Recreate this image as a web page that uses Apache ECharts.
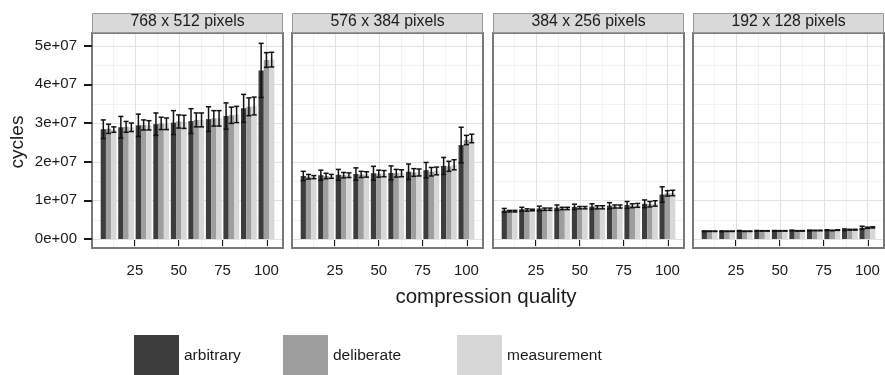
<!DOCTYPE html>
<html><head><meta charset="utf-8">
<script src="https://cdn.jsdelivr.net/npm/echarts@6/dist/echarts.min.js"></script>
<style>html,body{margin:0;padding:0;background:#fff}#c{width:885px;height:375px}</style>
</head><body><div id="c"></div>
<script>
// ---------- data ----------
const quality = [10, 20, 30, 40, 50, 60, 70, 80, 90, 100];
const panelTitles = ['768 x 512 pixels', '576 x 384 pixels', '384 x 256 pixels', '192 x 128 pixels'];
const seriesNames = ['arbitrary', 'deliberate', 'measurement'];
const xTickValues = [25, 50, 75, 100];
const xMinorValues = [12.5, 37.5, 62.5, 87.5];
const yTickValues = [0, 1e7, 2e7, 3e7, 4e7, 5e7];
const yTickLabels = ['0e+00', '1e+07', '2e+07', '3e+07', '4e+07', '5e+07'];
const yMinorValues = [0.5e7, 1.5e7, 2.5e7, 3.5e7, 4.5e7];

// 768 x 512
const p768Arb   = [2.84e7, 2.89e7, 2.94e7, 2.97e7, 3.01e7, 3.05e7, 3.10e7, 3.18e7, 3.38e7, 4.36e7];
const p768ArbSd = [0.24e7, 0.28e7, 0.29e7, 0.29e7, 0.31e7, 0.32e7, 0.32e7, 0.34e7, 0.36e7, 0.70e7];
const p768Del   = [2.85e7, 2.90e7, 2.95e7, 2.99e7, 3.04e7, 3.08e7, 3.12e7, 3.20e7, 3.42e7, 4.63e7];
const p768DelSd = [0.12e7, 0.14e7, 0.13e7, 0.16e7, 0.17e7, 0.18e7, 0.20e7, 0.21e7, 0.23e7, 0.19e7];
const p768Mea   = [2.83e7, 2.89e7, 2.94e7, 2.98e7, 3.03e7, 3.08e7, 3.12e7, 3.22e7, 3.44e7, 4.64e7];
const p768MeaSd = [0.07e7, 0.11e7, 0.12e7, 0.15e7, 0.17e7, 0.18e7, 0.20e7, 0.21e7, 0.23e7, 0.19e7];
// 576 x 384
const p576Arb   = [1.63e7, 1.65e7, 1.66e7, 1.68e7, 1.70e7, 1.71e7, 1.74e7, 1.78e7, 1.89e7, 2.43e7];
const p576ArbSd = [0.12e7, 0.13e7, 0.14e7, 0.16e7, 0.18e7, 0.18e7, 0.20e7, 0.20e7, 0.22e7, 0.46e7];
const p576Del   = [1.61e7, 1.63e7, 1.65e7, 1.67e7, 1.69e7, 1.70e7, 1.72e7, 1.74e7, 1.88e7, 2.56e7];
const p576DelSd = [0.06e7, 0.07e7, 0.07e7, 0.08e7, 0.09e7, 0.10e7, 0.10e7, 0.11e7, 0.13e7, 0.12e7];
const p576Mea   = [1.60e7, 1.62e7, 1.65e7, 1.67e7, 1.69e7, 1.70e7, 1.72e7, 1.76e7, 1.92e7, 2.60e7];
const p576MeaSd = [0.04e7, 0.05e7, 0.06e7, 0.07e7, 0.08e7, 0.09e7, 0.09e7, 0.10e7, 0.13e7, 0.11e7];
// 384 x 256
const p384Arb   = [0.74e7, 0.77e7, 0.79e7, 0.81e7, 0.83e7, 0.84e7, 0.86e7, 0.88e7, 0.91e7, 1.15e7];
const p384ArbSd = [0.05e7, 0.05e7, 0.06e7, 0.07e7, 0.07e7, 0.07e7, 0.08e7, 0.09e7, 0.10e7, 0.20e7];
const p384Del   = [0.72e7, 0.75e7, 0.77e7, 0.79e7, 0.81e7, 0.82e7, 0.84e7, 0.86e7, 0.90e7, 1.18e7];
const p384DelSd = [0.02e7, 0.03e7, 0.03e7, 0.03e7, 0.03e7, 0.04e7, 0.04e7, 0.05e7, 0.07e7, 0.07e7];
const p384Mea   = [0.72e7, 0.75e7, 0.77e7, 0.79e7, 0.81e7, 0.82e7, 0.84e7, 0.87e7, 0.92e7, 1.19e7];
const p384MeaSd = [0.02e7, 0.02e7, 0.03e7, 0.03e7, 0.03e7, 0.04e7, 0.04e7, 0.05e7, 0.07e7, 0.07e7];
// 192 x 128
const p192Arb   = [0.20e7, 0.20e7, 0.21e7, 0.21e7, 0.21e7, 0.22e7, 0.22e7, 0.23e7, 0.24e7, 0.29e7];
const p192ArbSd = [0.01e7, 0.01e7, 0.01e7, 0.01e7, 0.01e7, 0.01e7, 0.01e7, 0.01e7, 0.02e7, 0.04e7];
const p192Del   = [0.20e7, 0.20e7, 0.20e7, 0.21e7, 0.21e7, 0.21e7, 0.22e7, 0.22e7, 0.24e7, 0.29e7];
const p192DelSd = [0.005e7, 0.005e7, 0.005e7, 0.005e7, 0.006e7, 0.006e7, 0.006e7, 0.007e7, 0.01e7, 0.015e7];
const p192Mea   = [0.20e7, 0.20e7, 0.20e7, 0.21e7, 0.21e7, 0.21e7, 0.22e7, 0.23e7, 0.24e7, 0.30e7];
const p192MeaSd = [0.005e7, 0.005e7, 0.005e7, 0.005e7, 0.006e7, 0.006e7, 0.006e7, 0.007e7, 0.01e7, 0.015e7];

// ---------- assembly ----------
const panels = [
  [[p768Arb, p768ArbSd], [p768Del, p768DelSd], [p768Mea, p768MeaSd]],
  [[p576Arb, p576ArbSd], [p576Del, p576DelSd], [p576Mea, p576MeaSd]],
  [[p384Arb, p384ArbSd], [p384Del, p384DelSd], [p384Mea, p384MeaSd]],
  [[p192Arb, p192ArbSd], [p192Del, p192DelSd], [p192Mea, p192MeaSd]]
];

const FONT = '"Liberation Sans", Arial, Helvetica, sans-serif';
const fills = ['#3d3d3d', '#9e9e9e', '#d7d7d7'];
const offsets = [-3, 0, 3];
const barW = 3;
const capW = 2.9;
const gridLefts = [92, 292, 493, 693];
const gridW = 191, gridTop = 33, gridH = 215;
const xMin = 0.55, xMax = 109.45;
const yMin = -0.2328e7, yMax = 5.328e7;

const chart = echarts.init(document.getElementById('c'), null, {renderer: 'canvas'});

const grids = [], xAxes = [], yAxes = [], series = [], graphics = [];

function gridLinesRender(params, api) {
  const cs = params.coordSys;
  const kind = api.value(0), val = api.value(1), major = api.value(2);
  const stroke = major ? '#e2e2e2' : '#f2f2f2';
  if (kind === 0) {
    const p = api.coord([val, 0]);
    const x = Math.round(p[0]) + 0.5;
    return {type: 'line', shape: {x1: x, y1: cs.y + 1, x2: x, y2: cs.y + cs.height - 1},
            style: {stroke: stroke, lineWidth: 1}};
  } else {
    const p = api.coord([xMin, val]);
    const y = Math.round(p[1]) + 0.5;
    return {type: 'line', shape: {x1: cs.x + 1, y1: y, x2: cs.x + cs.width - 1, y2: y},
            style: {stroke: stroke, lineWidth: 1}};
  }
}

const gridLineData = [];
xMinorValues.forEach(v => gridLineData.push([0, v, 0]));
yMinorValues.forEach(v => gridLineData.push([1, v, 0]));
xTickValues.forEach(v => gridLineData.push([0, v, 1]));
yTickValues.forEach(v => gridLineData.push([1, v, 1]));

panels.forEach((panel, pi) => {
  grids.push({left: gridLefts[pi], top: gridTop, width: gridW, height: gridH,
              show: true, backgroundColor: '#ffffff', borderColor: '#7a7a7a', borderWidth: 2,
              containLabel: false});
  xAxes.push({
    type: 'value', gridIndex: pi, min: xMin, max: xMax,
    axisLine: {show: false},
    splitLine: {show: false},
    axisTick: {show: true, length: 7, customValues: xTickValues, lineStyle: {color: '#1a1a1a', width: 2}},
    axisLabel: {show: true, customValues: xTickValues, margin: 15, fontSize: 15, color: '#1a1a1a', fontFamily: FONT}
  });
  yAxes.push({
    type: 'value', gridIndex: pi, min: yMin, max: yMax,
    axisLine: {show: false},
    splitLine: {show: false},
    axisTick: {show: pi === 0, length: 8, customValues: yTickValues, lineStyle: {color: '#1a1a1a', width: 2}},
    axisLabel: {show: pi === 0, customValues: yTickValues, margin: 15, fontSize: 15, color: '#1a1a1a', fontFamily: FONT,
                formatter: (v) => { const i = yTickValues.indexOf(v); return i >= 0 ? yTickLabels[i] : ''; }}
  });
  series.push({
    type: 'custom', xAxisIndex: pi, yAxisIndex: pi, z: 1, silent: true,
    renderItem: gridLinesRender, data: gridLineData, encode: {x: 1, y: 1}
  });
  panel.forEach((pair, ti) => {
    const vals = pair[0], sds = pair[1];
    const off = offsets[ti];
    const fill = fills[ti];
    series.push({
      name: seriesNames[ti], type: 'custom', xAxisIndex: pi, yAxisIndex: pi, z: 2,
      itemStyle: {color: fill},
      encode: {x: 0, y: 1},
      data: quality.map((q, i) => [q, vals[i]]),
      renderItem: function (params, api) {
        const q = api.value(0), v = api.value(1);
        const a = api.coord([q + off - barW / 2, v]);
        const b = api.coord([q + off + barW / 2, 0]);
        return {type: 'rect', shape: {x: a[0], y: a[1], width: b[0] - a[0], height: b[1] - a[1]},
                style: {fill: fill}};
      }
    });
    series.push({
      type: 'custom', xAxisIndex: pi, yAxisIndex: pi, z: 3,
      encode: {x: 0, y: 1},
      data: quality.map((q, i) => [q, vals[i], sds[i]]),
      renderItem: function (params, api) {
        const q = api.value(0) + off, v = api.value(1), sd = api.value(2);
        const t = api.coord([q, v + sd]), b = api.coord([q, v - sd]);
        const half = api.size([capW, 0])[0] / 2;
        const st = {stroke: '#111111', lineWidth: 1.5};
        return {type: 'group', children: [
          {type: 'line', shape: {x1: t[0], y1: t[1], x2: b[0], y2: b[1]}, style: st},
          {type: 'line', shape: {x1: t[0] - half, y1: t[1], x2: t[0] + half, y2: t[1]}, style: st},
          {type: 'line', shape: {x1: b[0] - half, y1: b[1], x2: b[0] + half, y2: b[1]}, style: st}
        ]};
      }
    });
  });
  // strip
  graphics.push({type: 'rect', shape: {x: gridLefts[pi] + 0.5, y: 13.5, width: gridW - 1, height: 19},
                 style: {fill: '#d9d9d9', stroke: '#9a9a9a', lineWidth: 1}, z: 10});
  graphics.push({type: 'text', x: gridLefts[pi] + gridW / 2, y: 22,
                 style: {text: panelTitles[pi], align: 'center', verticalAlign: 'middle',
                         fontSize: 15.8, fontFamily: FONT, fill: '#1a1a1a'}, z: 11});
});

graphics.push({type: 'text', x: 486, y: 297,
               style: {text: 'compression quality', align: 'center', verticalAlign: 'middle',
                       fontSize: 20.5, fontFamily: FONT, fill: '#1a1a1a'}});
graphics.push({type: 'text', x: 18, y: 142, rotation: Math.PI / 2,
               style: {text: 'cycles', align: 'center', verticalAlign: 'middle',
                       fontSize: 19, fontFamily: FONT, fill: '#1a1a1a'}});

const legendLefts = [129, 278, 452];
const legends = seriesNames.map((n, i) => ({
  data: [n], left: legendLefts[i], top: 330, orient: 'horizontal',
  icon: 'rect', itemWidth: 45, itemHeight: 42, selectedMode: false,
  textStyle: {fontSize: 15.5, color: '#1a1a1a', fontFamily: FONT}
}));

chart.setOption({
  animation: false,
  backgroundColor: '#ffffff',
  grid: grids, xAxis: xAxes, yAxis: yAxes,
  legend: legends,
  series: series,
  graphic: graphics
});
</script>
</body></html>
